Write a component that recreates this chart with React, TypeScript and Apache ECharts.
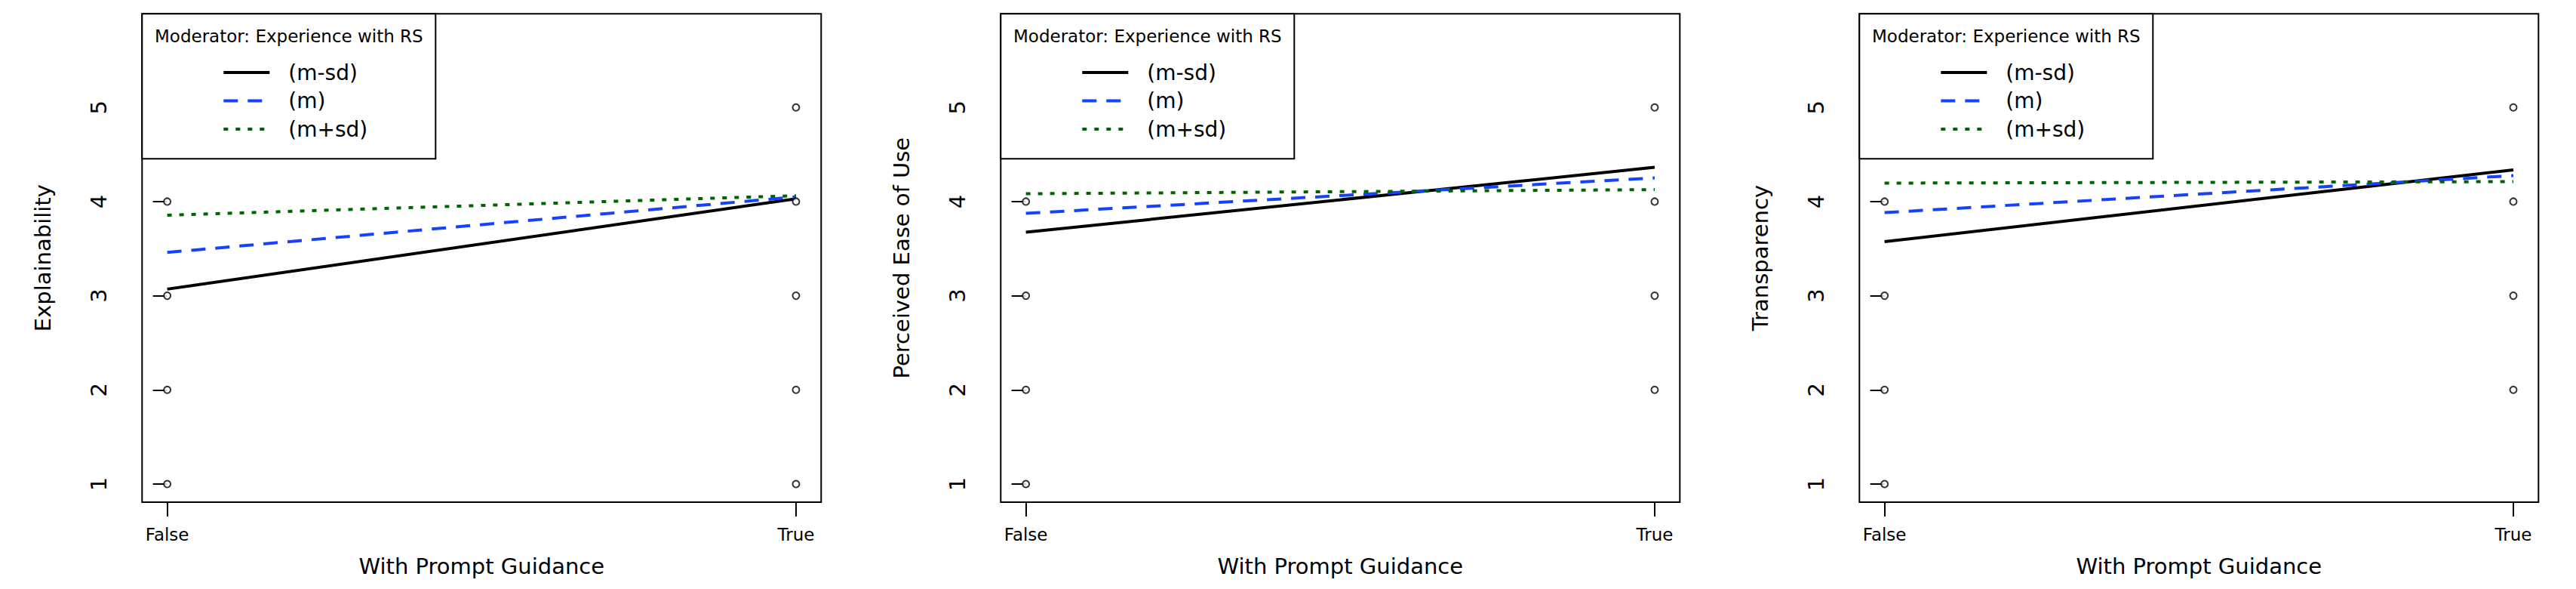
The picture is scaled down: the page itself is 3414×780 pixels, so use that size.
import React, { useEffect, useRef } from 'react';
import * as echarts from 'echarts';

// ---- data ----
const xCategories = ['False', 'True'];
const xTickValues = [0, 1];
const yTickValues = [1, 2, 3, 4, 5];
const seriesNames = ['(m-sd)', '(m)', '(m+sd)'];
const panelTitles = ['Explainability', 'Perceived Ease of Use', 'Transparency'];
const legendTitle = 'Moderator: Experience with RS';
const xTitle = 'With Prompt Guidance';

// predicted values at [False, True]
const explainMinusSd = [3.07, 4.03];
const explainMean = [3.46, 4.05];
const explainPlusSd = [3.855, 4.063];
const easeMinusSd = [3.674, 4.364];
const easeMean = [3.875, 4.252];
const easePlusSd = [4.083, 4.127];
const transMinusSd = [3.574, 4.336];
const transMean = [3.883, 4.276];
const transPlusSd = [4.196, 4.212];

// observed responses
const explainObsFalse = [1, 2, 3, 4];
const explainObsTrue = [1, 2, 3, 4, 5];
const easeObsFalse = [1, 2, 3, 4];
const easeObsTrue = [2, 3, 4, 5];
const transObsFalse = [1, 2, 3, 4];
const transObsTrue = [2, 3, 4, 5];

const panels = [
  { lines: [explainMinusSd, explainMean, explainPlusSd], obsFalse: explainObsFalse, obsTrue: explainObsTrue },
  { lines: [easeMinusSd, easeMean, easePlusSd], obsFalse: easeObsFalse, obsTrue: easeObsTrue },
  { lines: [transMinusSd, transMean, transPlusSd], obsFalse: transObsFalse, obsTrue: transObsTrue },
];

const FONT = 'DejaVu Sans';
const lineColors = ['#000000', '#1541ff', '#006400'];
const lineDash: any[] = ['solid', [19, 13], [6, 10]];
const LINE_W = 4;

const FIG_W = 1138;
const PLOT_L = 188.3;
const PLOT_T = 18.3;
const PLOT_W = 900;
const PLOT_H = 646.7;

export default function App() {
  const ref = useRef<HTMLDivElement>(null);
  useEffect(() => {
    if (!ref.current) return;
    const chart = echarts.init(ref.current, null, { renderer: 'svg' });

    const grid = panels.map((_, i) => ({
      left: i * FIG_W + PLOT_L,
      top: PLOT_T,
      width: PLOT_W,
      height: PLOT_H,
      show: true,
      borderColor: '#000',
      borderWidth: 2,
      backgroundColor: 'transparent',
    }));

    const xAxis = panels.map((_, i) => ({
      gridIndex: i,
      type: 'value',
      min: -0.04,
      max: 1.04,
      axisLine: { show: false },
      splitLine: { show: false },
      axisTick: { show: true, length: 19, lineStyle: { color: '#000', width: 2 }, customValues: xTickValues },
      axisLabel: {
        customValues: xTickValues,
        formatter: (v: number) => xCategories[Math.round(v)],
        fontSize: 23,
        lineHeight: 23,
        fontFamily: FONT,
        color: '#000',
        margin: 31,
      },
      name: xTitle,
      nameLocation: 'middle',
      nameGap: 70,
      nameTextStyle: { fontSize: 29, lineHeight: 29, fontFamily: FONT, color: '#000' },
    }));

    const yAxis = panels.map((_, i) => ({
      gridIndex: i,
      type: 'value',
      min: 0.8075,
      max: 5.994,
      axisLine: { show: false },
      splitLine: { show: false },
      axisTick: { show: true, length: 19, lineStyle: { color: '#000', width: 2 }, customValues: yTickValues },
      axisLabel: {
        customValues: yTickValues,
        rotate: 90,
        fontSize: 29,
        lineHeight: 29,
        fontFamily: FONT,
        color: '#000',
        margin: 43,
      },
      name: panelTitles[i],
      nameLocation: 'middle',
      nameRotate: 90,
      nameGap: 117,
      nameTextStyle: { fontSize: 29, lineHeight: 29, fontFamily: FONT, color: '#000' },
    }));

    const series: any[] = [];
    panels.forEach((p, i) => {
      p.lines.forEach((vals, k) => {
        series.push({
          type: 'line',
          name: seriesNames[k],
          xAxisIndex: i,
          yAxisIndex: i,
          data: xTickValues.map((x, j) => [x, vals[j]]),
          symbol: 'none',
          lineStyle: { color: lineColors[k], width: LINE_W, type: lineDash[k], cap: 'butt' },
          itemStyle: { color: lineColors[k] },
          z: 3,
        });
      });
      series.push({
        type: 'scatter',
        name: 'obs',
        xAxisIndex: i,
        yAxisIndex: i,
        data: [
          ...p.obsFalse.map((v) => [xTickValues[0], v]),
          ...p.obsTrue.map((v) => [xTickValues[1], v]),
        ],
        symbol: 'emptyCircle',
        symbolSize: 9,
        itemStyle: { color: '#000', borderColor: '#000', borderWidth: 2.4 },
        z: 4,
      });
    });

    const legend = panels.map((_, i) => ({
      data: seriesNames.map((n, k) => ({
        name: n,
        itemStyle: { opacity: 0, color: 'transparent', borderWidth: 0 },
        lineStyle: { color: lineColors[k], width: LINE_W, type: lineDash[k], cap: 'butt', opacity: 1 },
      })),
      orient: 'vertical',
      left: i * FIG_W + 294.3,
      top: 81,
      itemWidth: 61,
      itemHeight: 30,
      itemGap: 7.5,
      padding: 0,
      selectedMode: false,
      textStyle: { fontSize: 28, lineHeight: 30, fontFamily: FONT, color: '#000', padding: [0, 0, 0, 20] },
      z: 5,
    }));

    const graphic: any[] = [];
    panels.forEach((_, i) => {
      graphic.push({
        type: 'rect',
        shape: { x: i * FIG_W + PLOT_L, y: PLOT_T, width: 389, height: 192 },
        style: { fill: '#fff', stroke: '#000', lineWidth: 2 },
        z: 1,
      });
      graphic.push({
        type: 'text',
        x: i * FIG_W + 205,
        y: 48,
        style: {
          text: legendTitle,
          fontSize: 23,
          fontFamily: FONT,
          fill: '#000',
          textAlign: 'left',
          textVerticalAlign: 'middle',
        },
        z: 5,
      });
    });

    chart.setOption({
      animation: false,
      backgroundColor: '#fff',
      grid,
      xAxis,
      yAxis,
      series,
      legend,
      graphic,
    });
    return () => chart.dispose();
  }, []);

  return (
    <div
      ref={ref}
      style={{ position: 'fixed', left: 0, top: 0, width: 3414, height: 780, background: '#fff' }}
    />
  );
}
